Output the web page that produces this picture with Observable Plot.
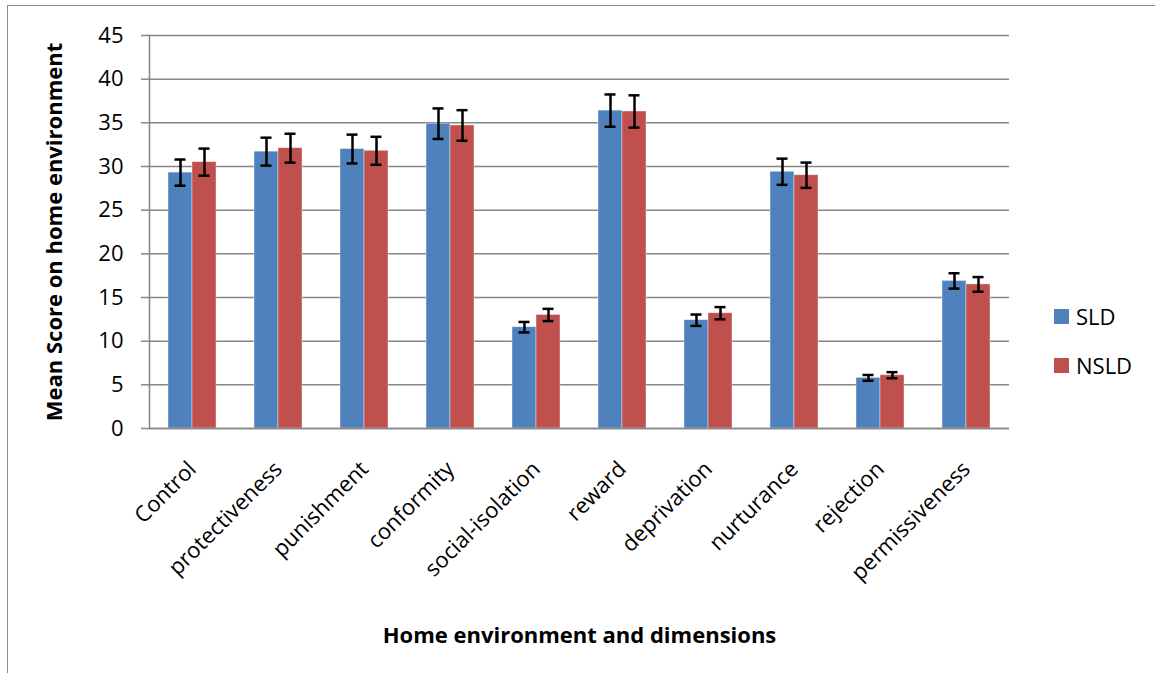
<!DOCTYPE html>
<html>
<head>
<meta charset="utf-8">
<script src="https://cdn.jsdelivr.net/npm/d3@7"></script>
<script src="https://cdn.jsdelivr.net/npm/@observablehq/plot@0.6"></script>
<style>
  html, body { margin: 0; padding: 0; background: #fff; }
  #wrap { position: relative; width: 1155px; height: 673px; overflow: hidden; background: #fff; font-family: "Open Sans", sans-serif; }
  #frame { position: absolute; left: 7px; top: 5px; width: 1170px; height: 720px; border: 1.5px solid #8c8c8c; box-sizing: border-box; }
  #chart { position: absolute; left: 0; top: 0; }
  #chart svg g[aria-label="y-axis label"] text,
  #chart svg g[aria-label="fx-axis label"] text { font-weight: bold; font-size: 22px; }
  #chart svg g[aria-label="y-axis tick"] { stroke: #868686; }
  #chart svg g[aria-label="y-axis tick"] path { stroke: #868686; stroke-width: 1.5px; }
  .leg { position: absolute; display: flex; align-items: center; font-size: 22px; color: #000; }
  .sw { width: 15px; height: 15px; margin-right: 7px; }
</style>
</head>
<body>
<div id="wrap">
  <div id="frame"></div>
  <div id="chart"></div>
  <div class="leg" style="left:1054px; top:301px;"><div class="sw" style="background:#4F81BD"></div><span>SLD</span></div>
  <div class="leg" style="left:1054px; top:350px;"><div class="sw" style="background:#C0504D"></div><span>NSLD</span></div>
</div>
<script>
const categories = ["Control", "protectiveness", "punishment", "conformity", "social-isolation", "reward", "deprivation", "nurturance", "rejection", "permissiveness"];
const seriesNames = ["SLD", "NSLD"];
const sldMean = [29.3, 31.7, 32.0, 34.9, 11.6, 36.4, 12.4, 29.4, 5.8, 16.9];
const nsldMean = [30.5, 32.1, 31.8, 34.7, 13.0, 36.3, 13.2, 29.0, 6.1, 16.5];
const sldErr = [1.5, 1.6, 1.65, 1.75, 0.6, 1.85, 0.65, 1.5, 0.33, 0.88];
const nsldErr = [1.55, 1.65, 1.6, 1.75, 0.7, 1.85, 0.7, 1.45, 0.35, 0.84];
const yTicks = [0, 5, 10, 15, 20, 25, 30, 35, 40, 45];
const colors = ["#4F81BD", "#C0504D"];

const rows = [];
categories.forEach((c, i) => {
  rows.push({category: c, series: "SLD", mean: sldMean[i], err: sldErr[i]});
  rows.push({category: c, series: "NSLD", mean: nsldMean[i], err: nsldErr[i]});
});

const chart = Plot.plot({
  width: 1155,
  height: 673,
  marginLeft: 145,
  marginRight: 143,
  marginTop: 35,
  marginBottom: 245,
  style: {fontFamily: "Open Sans, sans-serif", fontSize: "22px", color: "#000", background: "transparent"},
  fx: {
    domain: categories,
    padding: 0,
    label: "Home environment and dimensions",
    labelAnchor: "center",
    labelArrow: "none",
    labelOffset: 214,
    tickRotate: -45,
    tickSize: 0,
    tickPadding: 37
  },
  x: {domain: seriesNames, axis: null, paddingInner: 0, paddingOuter: 0.734},
  y: {
    domain: [0, 45],
    ticks: yTicks,
    tickSize: 8,
    tickPadding: 18,
    label: "Mean Score on home environment",
    labelAnchor: "center",
    labelArrow: "none",
    labelOffset: 103
  },
  color: {domain: seriesNames, range: colors},
  marks: [
    Plot.gridY(yTicks, {stroke: "#868686", strokeOpacity: 1, strokeWidth: 1.5}),
    Plot.barY(rows, {fx: "category", x: "series", y: "mean", fill: "series", stroke: "#ffffff", strokeOpacity: 0.5, strokeWidth: 0.8}),
    Plot.ruleX(rows, {fx: "category", x: "series", y1: d => d.mean - d.err, y2: d => d.mean + d.err, stroke: "#000", strokeWidth: 2.5}),
    Plot.tickY(rows, {fx: "category", x: "series", y: d => d.mean - d.err, stroke: "#000", strokeWidth: 2.5, insetLeft: 6.5, insetRight: 6.5}),
    Plot.tickY(rows, {fx: "category", x: "series", y: d => d.mean + d.err, stroke: "#000", strokeWidth: 2.5, insetLeft: 6.5, insetRight: 6.5}),
    Plot.ruleY([0], {stroke: "#868686", strokeWidth: 1.5}),
    Plot.frame({anchor: "left", facetAnchor: "left", stroke: "#868686", strokeWidth: 1.5})
  ]
});
document.getElementById("chart").appendChild(chart);
</script>
</body>
</html>
